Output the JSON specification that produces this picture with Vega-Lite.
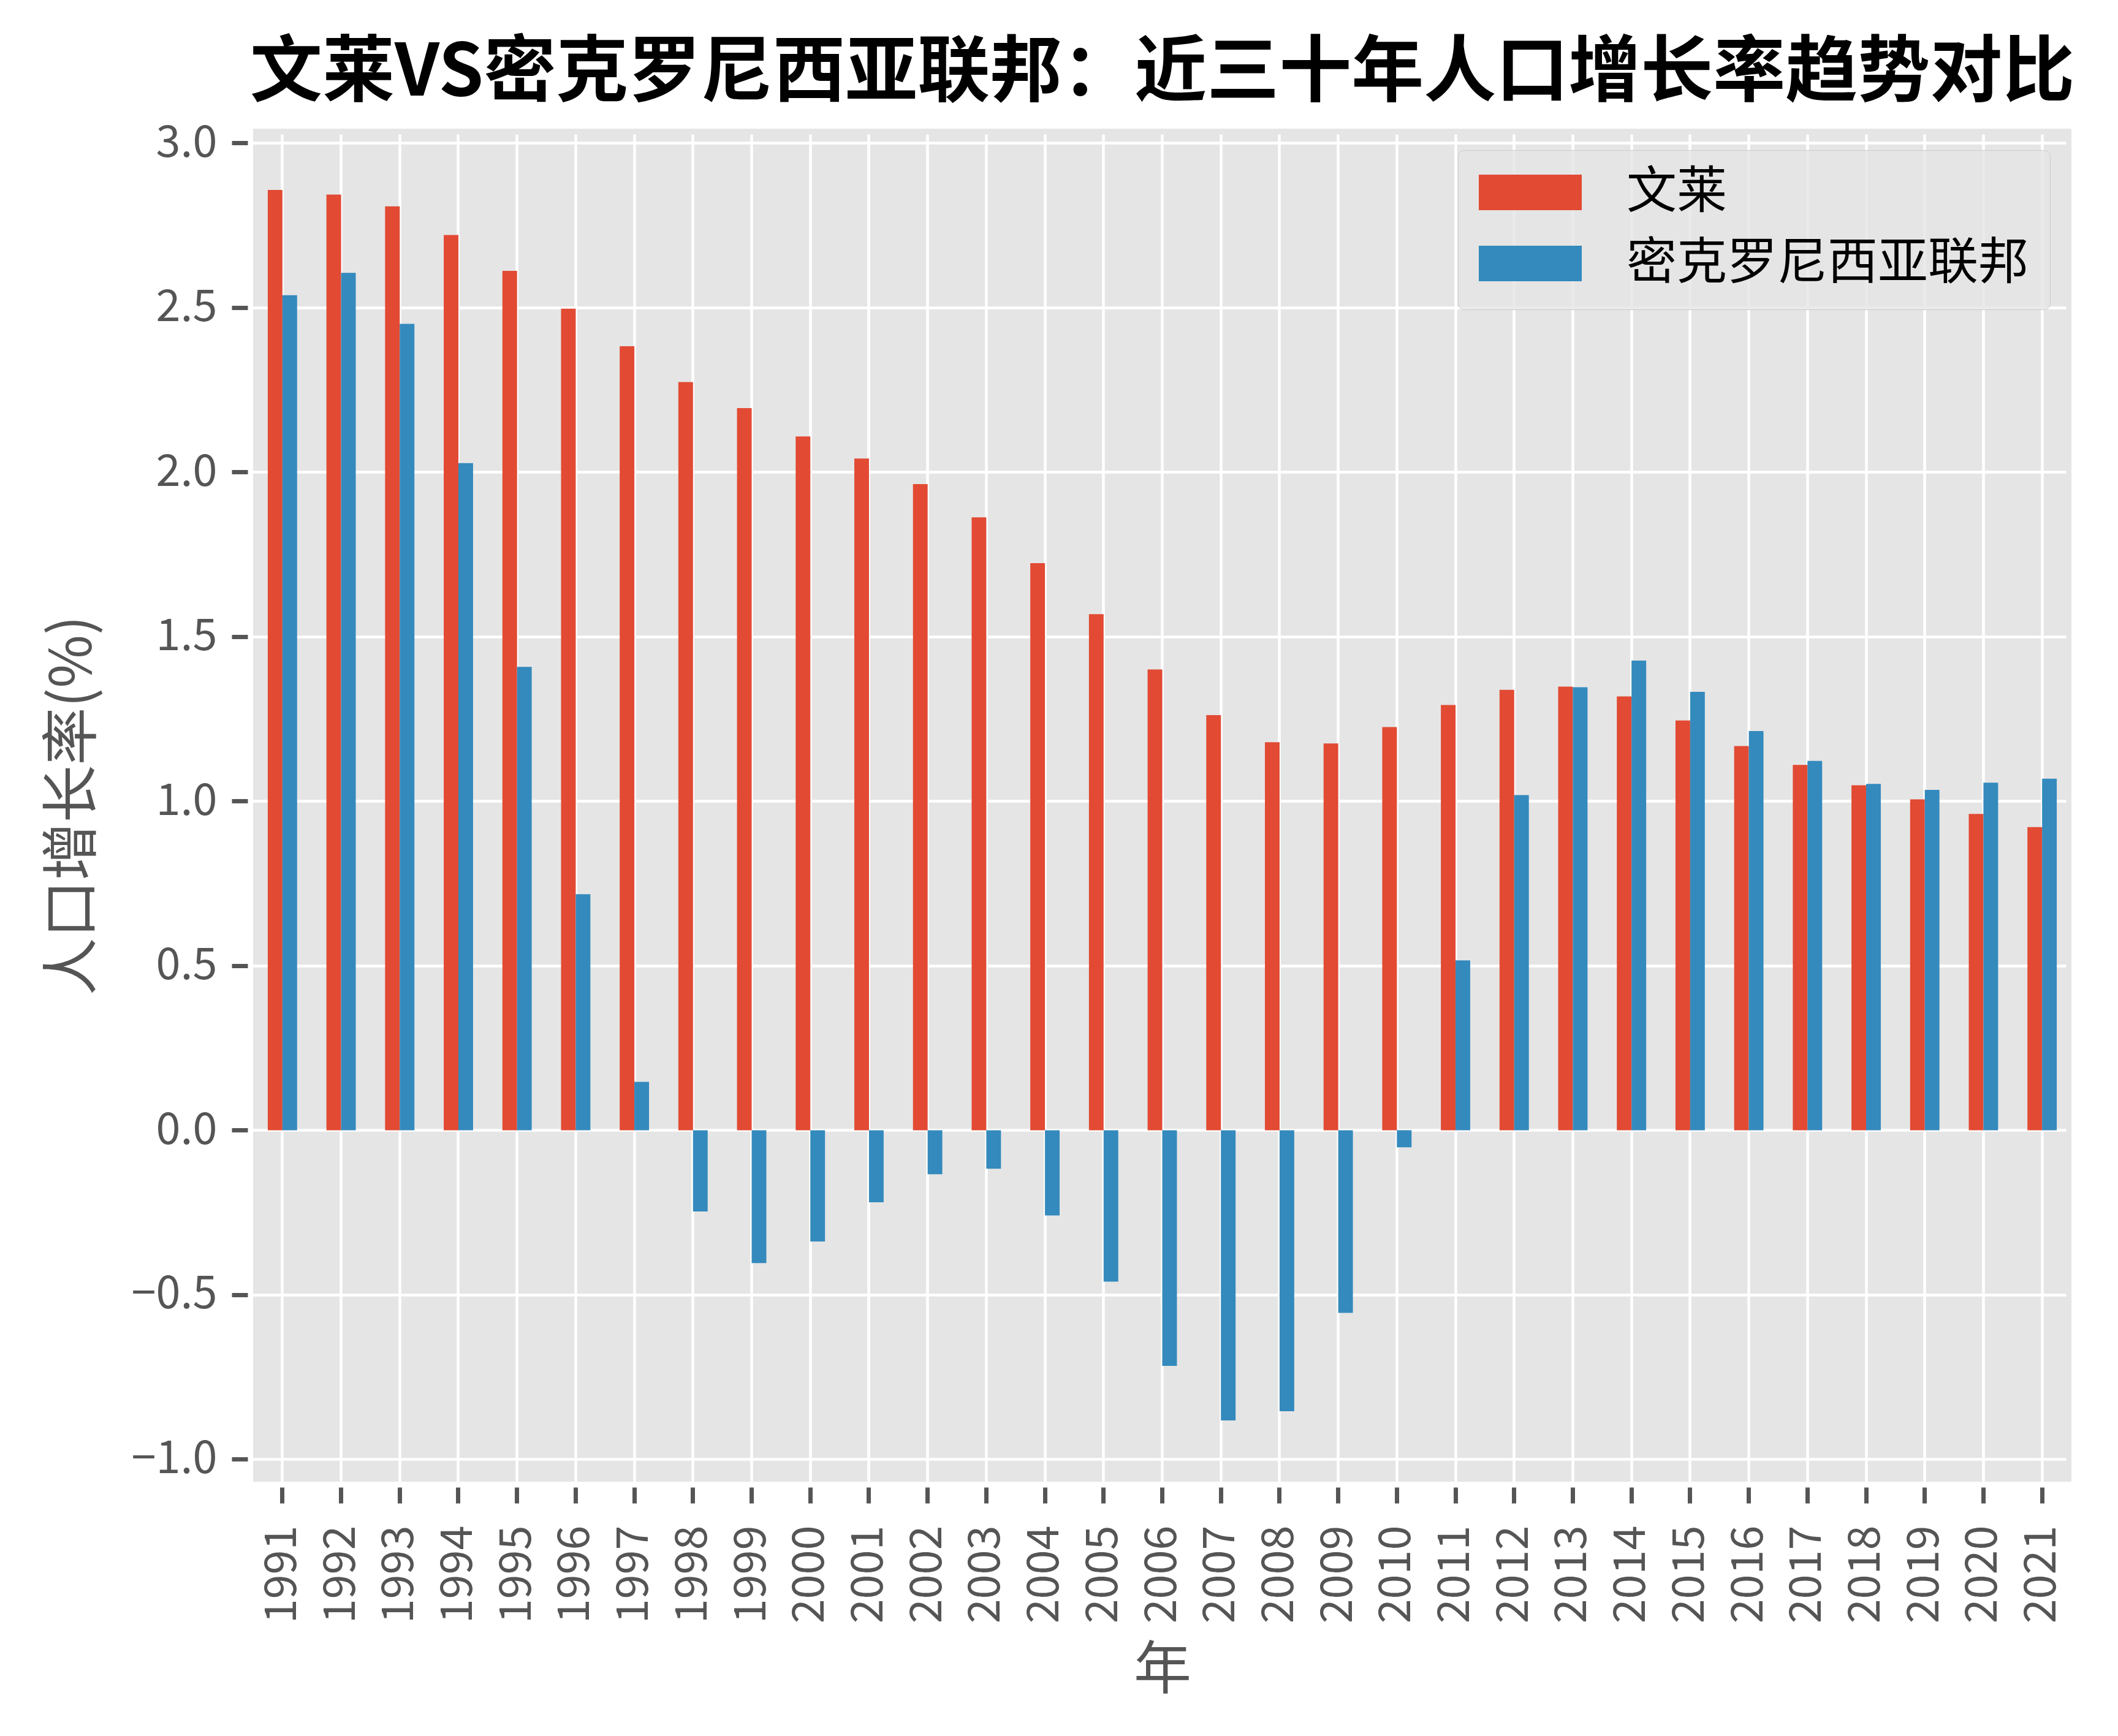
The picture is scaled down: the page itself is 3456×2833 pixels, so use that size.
{
  "$schema": "https://vega.github.io/schema/vega-lite/v6.json",
  "width": 2967,
  "height": 2208,
  "autosize": {"type": "none"},
  "padding": {"left": 413, "top": 210, "right": 76, "bottom": 415},
  "background": "white",
  "title": {
    "text": "文莱VS密克罗尼西亚联邦：近三十年人口增长率趋势对比",
    "font": "Noto Sans CJK SC",
    "fontSize": 118,
    "fontWeight": "bold",
    "color": "black",
    "anchor": "middle",
    "offset": 16
  },
  "data": {
    "values": [
      {"year": "1991", "country": "文莱", "rate": 2.857},
      {"year": "1992", "country": "文莱", "rate": 2.843},
      {"year": "1993", "country": "文莱", "rate": 2.807},
      {"year": "1994", "country": "文莱", "rate": 2.720},
      {"year": "1995", "country": "文莱", "rate": 2.611},
      {"year": "1996", "country": "文莱", "rate": 2.496},
      {"year": "1997", "country": "文莱", "rate": 2.382},
      {"year": "1998", "country": "文莱", "rate": 2.273},
      {"year": "1999", "country": "文莱", "rate": 2.194},
      {"year": "2000", "country": "文莱", "rate": 2.108},
      {"year": "2001", "country": "文莱", "rate": 2.041},
      {"year": "2002", "country": "文莱", "rate": 1.963},
      {"year": "2003", "country": "文莱", "rate": 1.862},
      {"year": "2004", "country": "文莱", "rate": 1.723},
      {"year": "2005", "country": "文莱", "rate": 1.568},
      {"year": "2006", "country": "文莱", "rate": 1.400},
      {"year": "2007", "country": "文莱", "rate": 1.261},
      {"year": "2008", "country": "文莱", "rate": 1.179},
      {"year": "2009", "country": "文莱", "rate": 1.175},
      {"year": "2010", "country": "文莱", "rate": 1.225},
      {"year": "2011", "country": "文莱", "rate": 1.292},
      {"year": "2012", "country": "文莱", "rate": 1.338},
      {"year": "2013", "country": "文莱", "rate": 1.348},
      {"year": "2014", "country": "文莱", "rate": 1.318},
      {"year": "2015", "country": "文莱", "rate": 1.245},
      {"year": "2016", "country": "文莱", "rate": 1.167},
      {"year": "2017", "country": "文莱", "rate": 1.110},
      {"year": "2018", "country": "文莱", "rate": 1.048},
      {"year": "2019", "country": "文莱", "rate": 1.005},
      {"year": "2020", "country": "文莱", "rate": 0.961},
      {"year": "2021", "country": "文莱", "rate": 0.921},
      {"year": "1991", "country": "密克罗尼西亚联邦", "rate": 2.537},
      {"year": "1992", "country": "密克罗尼西亚联邦", "rate": 2.605},
      {"year": "1993", "country": "密克罗尼西亚联邦", "rate": 2.450},
      {"year": "1994", "country": "密克罗尼西亚联邦", "rate": 2.027},
      {"year": "1995", "country": "密克罗尼西亚联邦", "rate": 1.408},
      {"year": "1996", "country": "密克罗尼西亚联邦", "rate": 0.717},
      {"year": "1997", "country": "密克罗尼西亚联邦", "rate": 0.147},
      {"year": "1998", "country": "密克罗尼西亚联邦", "rate": -0.247},
      {"year": "1999", "country": "密克罗尼西亚联邦", "rate": -0.404},
      {"year": "2000", "country": "密克罗尼西亚联邦", "rate": -0.338},
      {"year": "2001", "country": "密克罗尼西亚联邦", "rate": -0.219},
      {"year": "2002", "country": "密克罗尼西亚联邦", "rate": -0.134},
      {"year": "2003", "country": "密克罗尼西亚联邦", "rate": -0.117},
      {"year": "2004", "country": "密克罗尼西亚联邦", "rate": -0.259},
      {"year": "2005", "country": "密克罗尼西亚联邦", "rate": -0.460},
      {"year": "2006", "country": "密克罗尼西亚联邦", "rate": -0.716},
      {"year": "2007", "country": "密克罗尼西亚联邦", "rate": -0.882},
      {"year": "2008", "country": "密克罗尼西亚联邦", "rate": -0.854},
      {"year": "2009", "country": "密克罗尼西亚联邦", "rate": -0.555},
      {"year": "2010", "country": "密克罗尼西亚联邦", "rate": -0.052},
      {"year": "2011", "country": "密克罗尼西亚联邦", "rate": 0.516},
      {"year": "2012", "country": "密克罗尼西亚联邦", "rate": 1.018},
      {"year": "2013", "country": "密克罗尼西亚联邦", "rate": 1.346},
      {"year": "2014", "country": "密克罗尼西亚联邦", "rate": 1.427},
      {"year": "2015", "country": "密克罗尼西亚联邦", "rate": 1.332},
      {"year": "2016", "country": "密克罗尼西亚联邦", "rate": 1.213},
      {"year": "2017", "country": "密克罗尼西亚联邦", "rate": 1.122},
      {"year": "2018", "country": "密克罗尼西亚联邦", "rate": 1.052},
      {"year": "2019", "country": "密克罗尼西亚联邦", "rate": 1.034},
      {"year": "2020", "country": "密克罗尼西亚联邦", "rate": 1.056},
      {"year": "2021", "country": "密克罗尼西亚联邦", "rate": 1.068}
    ]
  },
  "mark": {"type": "bar"},
  "encoding": {
    "x": {
      "field": "year",
      "type": "ordinal",
      "title": "年",
      "scale": {"paddingInner": 0.5, "paddingOuter": 0.25},
      "axis": {
        "labelAngle": -90,
        "labelPadding": 36,
        "bandPosition": 0.5,
        "grid": true,
        "titleY": 300,
        "titleBaseline": "middle"
      }
    },
    "xOffset": {
      "field": "country",
      "type": "nominal",
      "sort": ["文莱", "密克罗尼西亚联邦"],
      "scale": {"paddingInner": 0, "paddingOuter": 0}
    },
    "y": {
      "field": "rate",
      "type": "quantitative",
      "title": "人口增长率(%)",
      "scale": {"domain": [-1.068, 3.043], "nice": false},
      "axis": {
        "values": [-1, -0.5, 0, 0.5, 1, 1.5, 2, 2.5, 3],
        "format": ".1f",
        "labelPadding": 24,
        "titlePadding": 46
      }
    },
    "color": {
      "field": "country",
      "type": "nominal",
      "sort": ["文莱", "密克罗尼西亚联邦"],
      "scale": {"domain": ["文莱", "密克罗尼西亚联邦"], "range": ["#E24A33", "#348ABD"]},
      "legend": {
        "title": null,
        "orient": "top-right",
        "offset": 35,
        "symbolType": "M-1,-0.345H1V0.345H-1Z",
        "symbolSize": 28224,
        "symbolStrokeWidth": 0,
        "symbolOpacity": 1,
        "clipHeight": 70,
        "rowPadding": 34,
        "labelFont": "Noto Sans CJK SC",
        "labelFontSize": 82,
        "labelColor": "black",
        "labelOffset": 73,
        "labelLimit": 2000,
        "padding": 34,
        "fillColor": "rgba(229,229,229,0.8)",
        "strokeColor": "#CCCCCC",
        "cornerRadius": 10
      }
    }
  },
  "config": {
    "view": {"fill": "#E5E5E5", "stroke": null},
    "axis": {
      "domain": false,
      "grid": true,
      "gridColor": "white",
      "gridWidth": 4.5,
      "gridOpacity": 1,
      "ticks": true,
      "tickColor": "#555555",
      "tickWidth": 7,
      "tickSize": 26,
      "offset": 9,
      "labelFont": "Noto Sans CJK SC",
      "labelFontSize": 72,
      "labelColor": "#555555",
      "titleFont": "Noto Sans CJK SC",
      "titleFontSize": 94,
      "titleFontWeight": "normal",
      "titleColor": "#555555"
    }
  }
}
